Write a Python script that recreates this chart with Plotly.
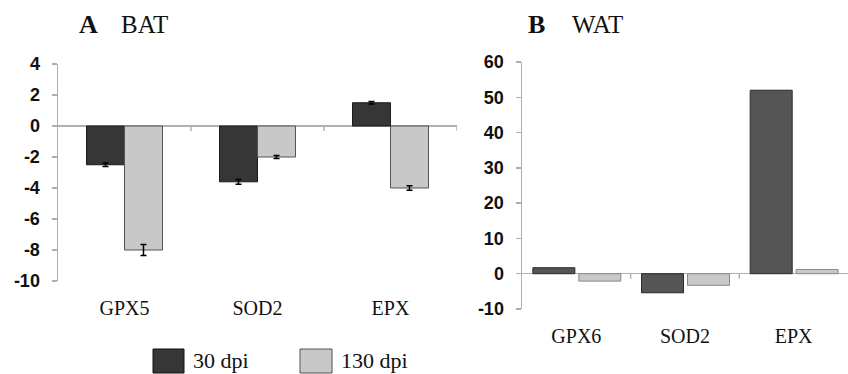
import plotly.graph_objects as go

# ---- data ----
bat_genes = ["GPX5", "SOD2", "EPX"]
bat_30 = [-2.5, -3.6, 1.5]
bat_130 = [-8.0, -2.0, -4.0]
bat_30_err = [0.12, 0.15, 0.08]
bat_130_err = [0.35, 0.1, 0.15]

wat_genes = ["GPX6", "SOD2", "EPX"]
wat_30 = [1.7, -5.4, 52.0]
wat_130 = [-2.1, -3.3, 1.2]

series_names = ["30 dpi", "130 dpi"]
bat_yticks = [4, 2, 0, -2, -4, -6, -8, -10]
wat_yticks = [60, 50, 40, 30, 20, 10, 0, -10]

W, H = 848, 374
def px(x): return x / W
def py(y): return 1 - y / H

DARK_L = "#363636"
DARK_R = "#555555"
LIGHT = "#c8c8c8"
AXC = "#b0b0b0"

fig = go.Figure()

# BAT panel
bw = 38 / 133
fig.add_trace(go.Bar(x=bat_genes, y=bat_30, name=series_names[0], xaxis="x", yaxis="y",
                     width=bw, offset=-bw,
                     marker=dict(color=DARK_L, line=dict(color="#1a1a1a", width=1)),
                     error_y=dict(type="data", array=bat_30_err, color="#000", thickness=1.5, width=3),
                     showlegend=False))
fig.add_trace(go.Bar(x=bat_genes, y=bat_130, name=series_names[1], xaxis="x", yaxis="y",
                     width=bw, offset=0,
                     marker=dict(color=LIGHT, line=dict(color="#555555", width=1)),
                     error_y=dict(type="data", array=bat_130_err, color="#000", thickness=1.5, width=3),
                     showlegend=False))

# WAT panel
rw = 42 / 108.7
fig.add_trace(go.Bar(x=wat_genes, y=wat_30, name=series_names[0], xaxis="x2", yaxis="y2",
                     width=rw, offset=-0.40,
                     marker=dict(color=DARK_R, line=dict(color="#2a2a2a", width=1)),
                     showlegend=False))
fig.add_trace(go.Bar(x=wat_genes, y=wat_130, name=series_names[1], xaxis="x2", yaxis="y2",
                     width=rw, offset=0.023,
                     marker=dict(color=LIGHT, line=dict(color="#8a8a8a", width=1)),
                     showlegend=False))

tickfont_y = dict(family="Liberation Sans", size=18, color="#111", weight="bold")
catfont = dict(family="Liberation Serif", size=20, color="#111")

common_x = dict(type="category", showline=False, showgrid=False, zeroline=False,
                automargin=False,
                ticks="outside", ticklen=9, tickcolor="rgba(0,0,0,0)", tickfont=catfont)
common_y = dict(showgrid=False, showline=True, linecolor=AXC, linewidth=1.5,
                automargin=False,
                ticks="outside", ticklen=5, tickcolor=AXC, tickwidth=1.5,
                zeroline=True, zerolinecolor=AXC, zerolinewidth=1.5,
                tickfont=tickfont_y, ticklabelstandoff=8)

fig.update_layout(
    width=W, height=H, autosize=False,
    margin=dict(l=0, r=0, t=0, b=0, pad=0),
    paper_bgcolor="white", plot_bgcolor="white",
    barmode="overlay", hovermode=False,
    xaxis=dict(domain=[px(58), px(457)], anchor="y", range=[-0.5, 2.5], **common_x),
    yaxis=dict(domain=[py(281), py(64)], anchor="x", range=[-10, 4],
               tickvals=bat_yticks, ticktext=[str(v) for v in bat_yticks], **common_y),
    xaxis2=dict(domain=[px(522), 1.0], anchor="y2", range=[-0.5, 2.5], **common_x),
    yaxis2=dict(domain=[py(309), py(62)], anchor="x2", range=[-10, 60],
                tickvals=wat_yticks, ticktext=[str(v) for v in wat_yticks], **common_y),
)

# category boundary ticks on the zero line
shapes = []
for xv in [0.5, 1.5, 2.5]:
    shapes.append(dict(type="line", xref="x", yref="y", x0=xv, x1=xv,
                       ysizemode="pixel", yanchor=0, y0=0, y1=-5,
                       line=dict(color=AXC, width=1.5)))
for xv in [0.5, 1.5]:
    shapes.append(dict(type="line", xref="x2", yref="y2", x0=xv, x1=xv,
                       ysizemode="pixel", yanchor=0, y0=0, y1=-5,
                       line=dict(color=AXC, width=1.5)))

# legend boxes
shapes.append(dict(type="rect", xref="paper", yref="paper",
                   x0=px(153), x1=px(184), y0=py(373), y1=py(349),
                   fillcolor=DARK_L, line=dict(color="#111", width=1)))
shapes.append(dict(type="rect", xref="paper", yref="paper",
                   x0=px(300), x1=px(332), y0=py(373), y1=py(349),
                   fillcolor=LIGHT, line=dict(color="#555", width=1)))
fig.update_layout(shapes=shapes)

ann = []
ann.append(dict(text="<b>A</b>", x=px(77), y=py(24), xref="paper", yref="paper",
                xanchor="left", yanchor="middle", showarrow=False,
                font=dict(family="Liberation Serif", size=26, color="#111")))
ann.append(dict(text="BAT", x=px(119), y=py(24), xref="paper", yref="paper",
                xanchor="left", yanchor="middle", showarrow=False,
                font=dict(family="Liberation Serif", size=25, color="#111")))
ann.append(dict(text="<b>B</b>", x=px(526), y=py(24), xref="paper", yref="paper",
                xanchor="left", yanchor="middle", showarrow=False,
                font=dict(family="Liberation Serif", size=26, color="#111")))
ann.append(dict(text="WAT", x=px(570), y=py(24), xref="paper", yref="paper",
                xanchor="left", yanchor="middle", showarrow=False,
                font=dict(family="Liberation Serif", size=25, color="#111")))
ann.append(dict(text=series_names[0], x=px(191), y=py(360), xref="paper", yref="paper",
                xanchor="left", yanchor="middle", showarrow=False,
                font=dict(family="Liberation Serif", size=22, color="#111")))
ann.append(dict(text=series_names[1], x=px(339), y=py(360), xref="paper", yref="paper",
                xanchor="left", yanchor="middle", showarrow=False,
                font=dict(family="Liberation Serif", size=22, color="#111")))
fig.update_layout(annotations=ann)

fig.write_html("out.html", config={"displayModeBar": False, "staticPlot": True},
               post_script="document.body.style.margin='0';document.body.style.overflow='hidden';")
